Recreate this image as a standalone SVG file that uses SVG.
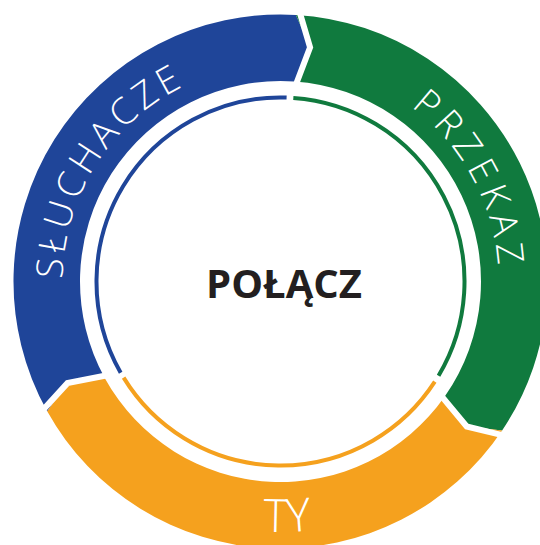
<svg xmlns="http://www.w3.org/2000/svg" width="540" height="545" viewBox="0 0 540 545">
  <defs>
    <style>
      .blue{fill:#1f4599}
      .green{fill:#107a3e}
      .orange{fill:#f5a11e}
      .thin{fill:none;stroke-width:4}
      .gap{fill:none;stroke:#ffffff;stroke-width:6;stroke-linejoin:miter;stroke-miterlimit:10}
      .ring-label{font-family:"Open Sans","Liberation Sans",sans-serif;font-weight:350;fill:#ffffff}
      .center-label{font-family:"Open Sans","Liberation Sans",sans-serif;font-weight:700;font-size:40px;fill:#231f20}
    </style>
    <path id="arc-sluchacze" d="M 132.94 441.97 A 218 218 0 0 1 364.28 80.24"/>
    <path id="arc-przekaz" d="M 213.13 74.17 A 218 218 0 0 1 414.71 453.29"/>
    <path id="arc-ty" d="M 66.72 413.02 A 251.5 251.5 0 0 0 501.30 400.87"/>
  </defs>
  <rect width="540" height="545" fill="#ffffff"/>

  <g id="node-sluchacze">
    <path class="blue" d="M 104.97 378.40 L 67.49 383.10 L 47.20 411.35 A 267 267 0 0 1 295.87 14.94 L 310.08 47.36 L 294.49 81.49 A 200.5 200.5 0 0 0 104.97 378.40 Z"/>
    <path class="thin" stroke="#1f4599" d="M 120.67 372.66 A 184 184 0 0 1 286.60 97.60"/>
    <text class="ring-label" font-size="37" letter-spacing="4.5"><textPath href="#arc-sluchacze" startOffset="50%" text-anchor="middle">SŁUCHACZE</textPath></text>
  </g>

  <g id="node-przekaz">
    <path class="green" d="M 294.49 81.49 L 310.08 47.36 L 295.87 14.94 A 267 267 0 0 1 502.11 430.42 L 466.72 426.47 L 444.74 396.50 A 200.5 200.5 0 0 0 294.49 81.49 Z"/>
    <path class="thin" stroke="#107a3e" d="M 293.34 97.95 A 184 184 0 0 1 438.55 375.72"/>
    <text class="ring-label" font-size="37" letter-spacing="6"><textPath href="#arc-przekaz" startOffset="50%" text-anchor="middle">PRZEKAZ</textPath></text>
  </g>

  <g id="node-ty">
    <path class="orange" d="M 444.74 396.50 L 466.72 426.47 L 502.11 430.42 A 267 267 0 0 1 47.20 411.35 L 67.49 383.10 L 104.97 378.40 A 200.5 200.5 0 0 0 444.74 396.50 Z"/>
    <path class="thin" stroke="#f5a11e" d="M 434.82 381.71 A 184 184 0 0 1 123.61 377.64"/>
    <text class="ring-label" font-size="46"><textPath href="#arc-ty" startOffset="50%" text-anchor="middle">TY</textPath></text>
  </g>

  <g id="connectors">
    <polyline class="gap" points="296.62,1.96 310.08,47.36 293.89,89.97"/>
    <polyline class="gap" points="512.90,437.67 466.72,426.47 437.78,391.63"/>
    <polyline class="gap" points="35.84,417.67 67.49,383.10 112.41,374.29"/>
  </g>

  <g id="node-center">
    <text class="center-label" x="284" y="298" text-anchor="middle">POŁĄCZ</text>
  </g>
</svg>
